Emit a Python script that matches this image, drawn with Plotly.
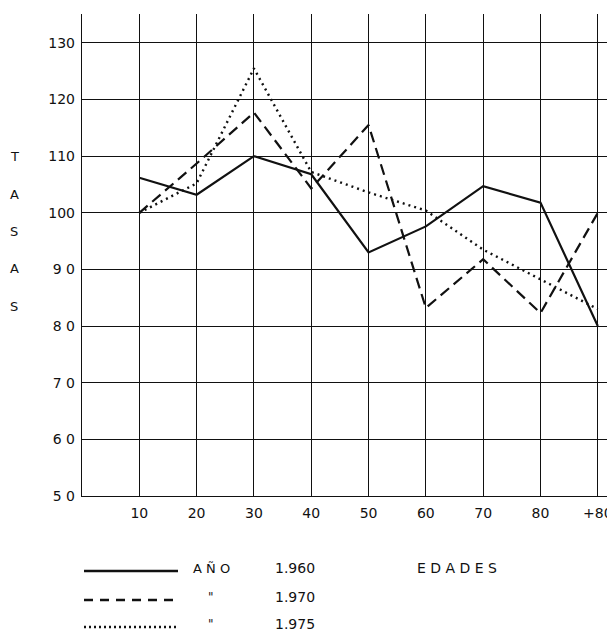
import plotly.graph_objects as go

# Age groups (EDADES) and rates (TASAS) per year
EDADES = ["10", "20", "30", "40", "50", "60", "70", "80", "+80"]
TASAS_1960 = [106.2, 103.2, 110.0, 106.8, 93.0, 97.6, 104.7, 101.8, 80.0]
TASAS_1970 = [100.0, 108.7, 117.7, 104.3, 115.5, 83.2, 91.8, 82.3, 100.0]
TASAS_1975 = [100.0, 105.2, 125.5, 107.2, 103.6, 100.4, 93.5, 88.2, 83.0]

Y_TICKS = [50, 60, 70, 80, 90, 100, 110, 120, 130]
Y_TICKTEXT = ["5 0", "6 0", "7 0", "8 0", "9 0", "100", "110", "120", "130"]

# the page body has an 8px margin, so the figure is shrunk and everything
# below is placed in page pixels minus that offset
OFF = 8
W, H = 615 - OFF, 631 - OFF
L, R, T, B = 82 - OFF, 0, 14 - OFF, 631 - 496
INK = "#111111"
FONT = "DejaVu Sans, Arial, sans-serif"


def px_x(x):
    return (x - OFF - L) / (W - L - R)


def px_y(y):
    return (H - B - (y - OFF)) / (H - T - B)


xpos = list(range(1, len(EDADES) + 1))

fig = go.Figure()
fig.add_trace(go.Scatter(x=xpos, y=TASAS_1960, mode="lines",
                         line=dict(color=INK, width=2.2)))
fig.add_trace(go.Scatter(x=xpos, y=TASAS_1970, mode="lines",
                         line=dict(color=INK, width=2.2, dash="11px,6px")))
fig.add_trace(go.Scatter(x=xpos, y=TASAS_1975, mode="lines",
                         line=dict(color=INK, width=2.4, dash="2px,4px")))

fig.update_layout(
    width=W, height=H,
    margin=dict(l=L, r=R, t=T, b=B),
    paper_bgcolor="white", plot_bgcolor="white",
    showlegend=False,
    font=dict(family=FONT, color=INK, size=14),
)
fig.update_xaxes(
    range=[0, 9.3], tickvals=xpos, ticktext=EDADES,
    showgrid=True, gridcolor=INK, gridwidth=1.2,
    showline=True, linecolor=INK, linewidth=1.4,
    zeroline=False, ticks="", ticklabelstandoff=4,
    tickfont=dict(size=14, family=FONT, color=INK),
)
fig.update_yaxes(
    range=[50, 135.1], tickvals=Y_TICKS, ticktext=Y_TICKTEXT,
    showgrid=True, gridcolor=INK, gridwidth=1.2,
    showline=True, linecolor=INK, linewidth=1.4,
    zeroline=False, ticks="", ticklabelstandoff=3,
    tickfont=dict(size=14, family=FONT, color=INK),
)

# vertical axis title, letter by letter
for i, ch in enumerate("TASAS"):
    fig.add_annotation(x=px_x(14), y=px_y(157 + i * 37.3), xref="paper", yref="paper",
                       text=ch, showarrow=False, font=dict(size=13, color=INK),
                       xanchor="center", yanchor="middle")

# legend drawn below the chart
rows = [(571, "solid", "A Ñ O", 13, "1.960"),
        (600, "9px,7px", "\"", 12, "1.970"),
        (627, "2px,3px", "\"", 12, "1.975")]
for y, dash, label, lsize, year in rows:
    fig.add_shape(type="line", xref="paper", yref="paper",
                  x0=px_x(84), x1=px_x(178), y0=px_y(y), y1=px_y(y),
                  line=dict(color=INK, width=2.4, dash=dash))
    fig.add_annotation(x=px_x(211), y=px_y(y - 3), xref="paper", yref="paper",
                       text=label, showarrow=False, font=dict(size=lsize, color=INK),
                       xanchor="center", yanchor="middle")
    fig.add_annotation(x=px_x(273), y=px_y(y - 3), xref="paper", yref="paper",
                       text=year, showarrow=False, font=dict(size=14, color=INK),
                       xanchor="left", yanchor="middle")

fig.add_annotation(x=px_x(415), y=px_y(568), xref="paper", yref="paper",
                   text="E D A D E S", showarrow=False, font=dict(size=14, color=INK),
                   xanchor="left", yanchor="middle")

fig.write_html("out.html")
